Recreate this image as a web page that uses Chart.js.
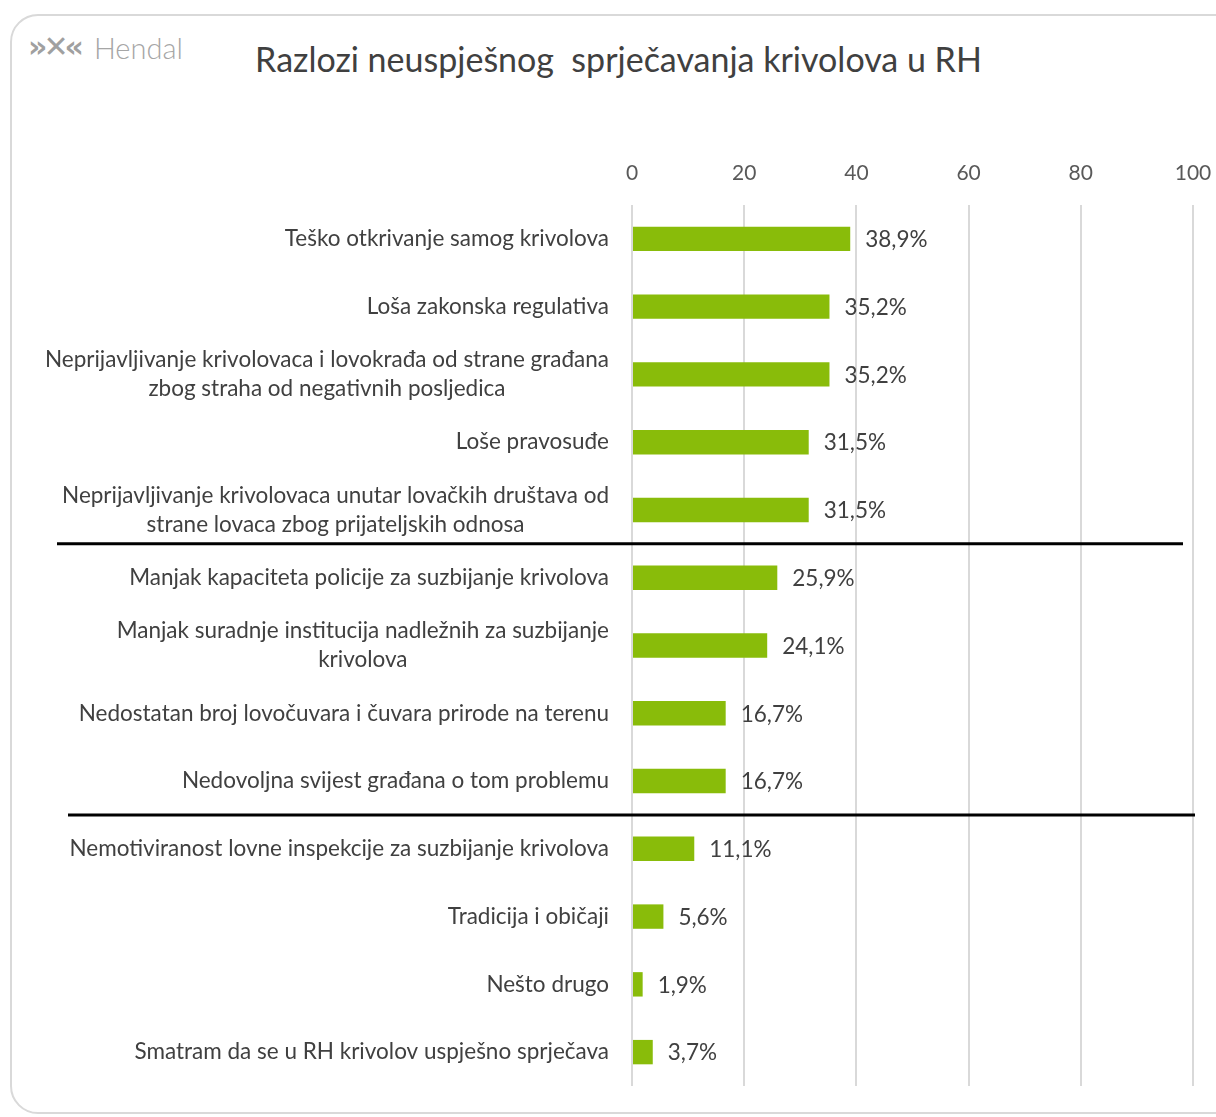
<!DOCTYPE html>
<html>
<head>
<meta charset="utf-8">
<script src="https://cdn.jsdelivr.net/npm/chart.js@4"></script>
<style>
  html, body { margin: 0; padding: 0; background: #fff; overflow: hidden; }
  #wrap { position: relative; width: 1216px; height: 1117px; }
  #card {
    position: absolute; left: 10px; top: 14px; width: 1240px; height: 1100px;
    border: 2px solid #d9d9d9; border-radius: 28px; box-sizing: border-box;
  }
  #logo {
    position: absolute; left: 28px; top: 30px; font-family: Lato, sans-serif; font-weight: 300;
    color: #a6a6a6; font-size: 29px; white-space: nowrap;
  }
  #logo b {
    font-family: "DejaVu Sans", sans-serif; font-size: 30px; font-weight: bold;
    letter-spacing: -4px; margin-right: 14px; color: #a0a0a0; position: relative; top: -2px;
  }
  #title {
    position: absolute; left: 0; width: 1237px; top: 38px; text-align: center;
    font-family: Lato, sans-serif; font-size: 34px; color: #404040; white-space: pre;
  }
  canvas { position: absolute; left: 0; top: 0; }
</style>
</head>
<body>
<div id="wrap">
  <div id="card"></div>
  <div id="logo"><b>»✕«</b>Hendal</div>
  <div id="title">Razlozi neuspješnog  sprječavanja krivolova u RH</div>
  <canvas id="chart" width="1216" height="1117"></canvas>
</div>
<script>
  const categories = [
    "Teško otkrivanje samog krivolova",
    "Loša zakonska regulativa",
    ["Neprijavljivanje krivolovaca i lovokrađa od strane građana", "zbog straha od negativnih posljedica"],
    "Loše pravosuđe",
    ["Neprijavljivanje krivolovaca unutar lovačkih društava od", "strane lovaca zbog prijateljskih odnosa"],
    "Manjak kapaciteta policije za suzbijanje krivolova",
    ["Manjak suradnje institucija nadležnih za suzbijanje", "krivolova"],
    "Nedostatan broj lovočuvara i čuvara prirode na terenu",
    "Nedovoljna svijest građana o tom problemu",
    "Nemotiviranost lovne inspekcije za suzbijanje krivolova",
    "Tradicija i običaji",
    "Nešto drugo",
    "Smatram da se u RH krivolov uspješno sprječava",
  ];
  const values = [38.9, 35.2, 35.2, 31.5, 31.5, 25.9, 24.1, 16.7, 16.7, 11.1, 5.6, 1.9, 3.7];
  const groupBreaks = [5, 9]; // separator drawn above these rows
  const xTicks = [0, 20, 40, 60, 80, 100];

  const colors = {
    bar: "#89bc0a",
    text: "#404040",
    tick: "#595959",
    grid: "#d9d9d9",
  };
  const fontFamily = "Lato, sans-serif";
  const labelFont = "22.5px " + fontFamily;

  // category labels: right edge fixed, extra lines centred under the first
  const rowLabels = {
    id: "rowLabels",
    afterDraw(chart) {
      const { ctx, scales } = chart;
      const yScale = scales.y;
      const right = chart.chartArea.left - 23;
      const lh = 29;
      ctx.save();
      ctx.font = labelFont;
      ctx.fillStyle = colors.text;
      ctx.textBaseline = "middle";
      ctx.textAlign = "center";
      categories.forEach((lab, i) => {
        const lines = Array.isArray(lab) ? lab : [lab];
        const w = Math.max(...lines.map((l) => ctx.measureText(l).width));
        const cx = right - w / 2;
        const y0 = yScale.getPixelForValue(i) - ((lines.length - 1) * lh) / 2;
        lines.forEach((l, k) => ctx.fillText(l, cx, y0 + k * lh));
      });
      ctx.restore();
    },
  };

  const valueLabels = {
    id: "valueLabels",
    afterDatasetsDraw(chart) {
      const { ctx } = chart;
      const meta = chart.getDatasetMeta(0);
      ctx.save();
      ctx.font = labelFont;
      ctx.fillStyle = colors.text;
      ctx.textBaseline = "middle";
      ctx.textAlign = "left";
      meta.data.forEach((bar, i) => {
        ctx.fillText(values[i].toFixed(1).replace(".", ",") + "%", bar.x + 15, bar.y + 1);
      });
      ctx.restore();
    },
  };

  const separators = {
    id: "separators",
    afterDraw(chart) {
      const { ctx, scales } = chart;
      const yScale = scales.y;
      const spans = [[57, 1183], [68, 1195]];
      ctx.save();
      ctx.strokeStyle = "#000";
      ctx.lineWidth = 3;
      groupBreaks.forEach((idx, k) => {
        const y = (yScale.getPixelForValue(idx - 1) + yScale.getPixelForValue(idx)) / 2;
        ctx.beginPath();
        ctx.moveTo(spans[k][0], y);
        ctx.lineTo(spans[k][1], y);
        ctx.stroke();
      });
      ctx.restore();
    },
  };

  new Chart(document.getElementById("chart"), {
    type: "bar",
    data: {
      labels: categories,
      datasets: [
        {
          data: values,
          backgroundColor: colors.bar,
          categoryPercentage: 1,
          barPercentage: 0.36,
        },
      ],
    },
    options: {
      indexAxis: "y",
      responsive: false,
      animation: false,
      layout: { padding: { top: 160, bottom: 31, right: 23, left: 0 } },
      plugins: { legend: { display: false }, tooltip: { enabled: false } },
      scales: {
        x: {
          position: "top",
          min: 0,
          max: 100,
          afterBuildTicks: (scale) => {
            scale.ticks = xTicks.map((v) => ({ value: v }));
          },
          afterFit: (scale) => {
            scale.height = 45;
            scale.paddingLeft = 0;
            scale.paddingRight = 0;
          },
          ticks: {
            color: colors.tick,
            font: { family: fontFamily, size: 21 },
            padding: 19,
          },
          grid: { color: colors.grid, lineWidth: 2, drawTicks: false },
          border: { display: false },
        },
        y: {
          ticks: { display: false },
          grid: { display: false },
          border: { display: false },
          afterFit: (scale) => {
            scale.width = 632;
          },
        },
      },
    },
    plugins: [rowLabels, valueLabels, separators],
  });
</script>
</body>
</html>
